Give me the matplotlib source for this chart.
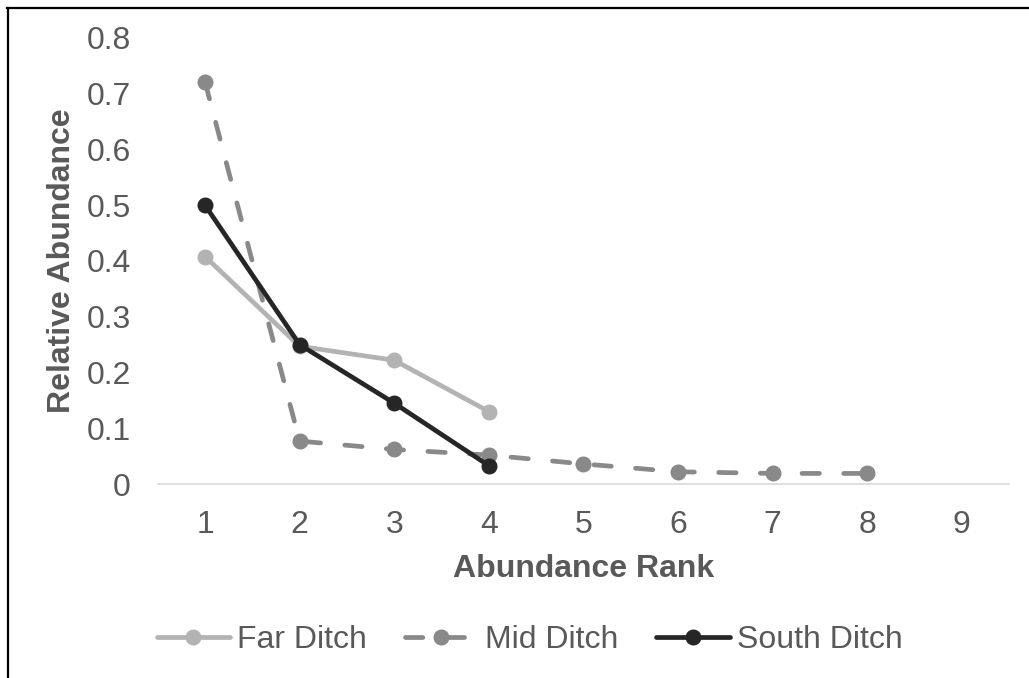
import matplotlib
matplotlib.use("Agg")
import matplotlib.pyplot as plt
from matplotlib.lines import Line2D

plt.rcParams["font.family"] = ["Liberation Sans", "DejaVu Sans"]
plt.rcParams["lines.scale_dashes"] = False

# abundanza relativa per rango
rank_far = [1, 2, 3, 4]
far_ditch = [0.408, 0.247, 0.222, 0.130]

rank_mid = [1, 2, 3, 4, 5, 6, 7, 8]
mid_ditch = [0.721, 0.077, 0.062, 0.052, 0.036, 0.022, 0.019, 0.019]

rank_south = [1, 2, 3, 4]
south_ditch = [0.500, 0.250, 0.145, 0.033]

xticks = [1, 2, 3, 4, 5, 6, 7, 8, 9]
yticks = [0, 0.1, 0.2, 0.3, 0.4, 0.5, 0.6, 0.7, 0.8]
ytick_labels = ["0", "0.1", "0.2", "0.3", "0.4", "0.5", "0.6", "0.7", "0.8"]

testo = "#595959"
fs = 23

fig = plt.figure(figsize=(10.29, 6.78), dpi=100)
ax = fig.add_axes([0.1533, 0.2861, 0.8273, 0.6579])

ax.plot(rank_far, far_ditch, color="#b3b3b3", lw=3.4, marker="o", ms=10.5,
        solid_capstyle="round", label="Far Ditch", zorder=3)
ax.plot(rank_mid, mid_ditch, color="#898989", lw=3.4, marker="o", ms=10.5,
        dashes=(12.5, 17.5), dash_capstyle="round", label="Mid Ditch", zorder=2)
ax.plot(rank_south, south_ditch, color="#262626", lw=3.4, marker="o", ms=10.5,
        solid_capstyle="round", label="South Ditch", zorder=4)

ax.set_xlim(0.5, 9.5)
ax.set_ylim(0, 0.8)
ax.set_xticks(xticks)
ax.set_yticks(yticks)
ax.set_yticklabels(ytick_labels)
ax.tick_params(length=0, labelsize=fs, labelcolor=testo)
ax.tick_params(axis="y", pad=19.5)
ax.tick_params(axis="x", pad=18.5)

for s in ["top", "right", "left"]:
    ax.spines[s].set_visible(False)
ax.spines["bottom"].set_color("#d9d9d9")
ax.spines["bottom"].set_linewidth(1.2)

ax.set_xlabel("Abundance Rank", fontsize=fs, fontweight="bold", color=testo)
ax.set_ylabel("Relative Abundance", fontsize=fs, fontweight="bold", color=testo)
ax.xaxis.set_label_coords(0.5, -0.157)
ax.yaxis.set_label_coords(-0.095, 0.5)

fig.legend(loc="center", bbox_to_anchor=(0.5146, 0.056), ncol=3, frameon=False,
           fontsize=fs, labelcolor=testo, handlelength=2.29, handletextpad=0.22,
           columnspacing=1.19)

# cornice
fig.add_artist(Line2D([0.0068, 1.0], [0.988, 0.988], color="black", lw=1.6))
fig.add_artist(Line2D([0.0073, 0.0073], [0.0, 0.988], color="black", lw=1.6))

fig.savefig("out.png", dpi=100)
